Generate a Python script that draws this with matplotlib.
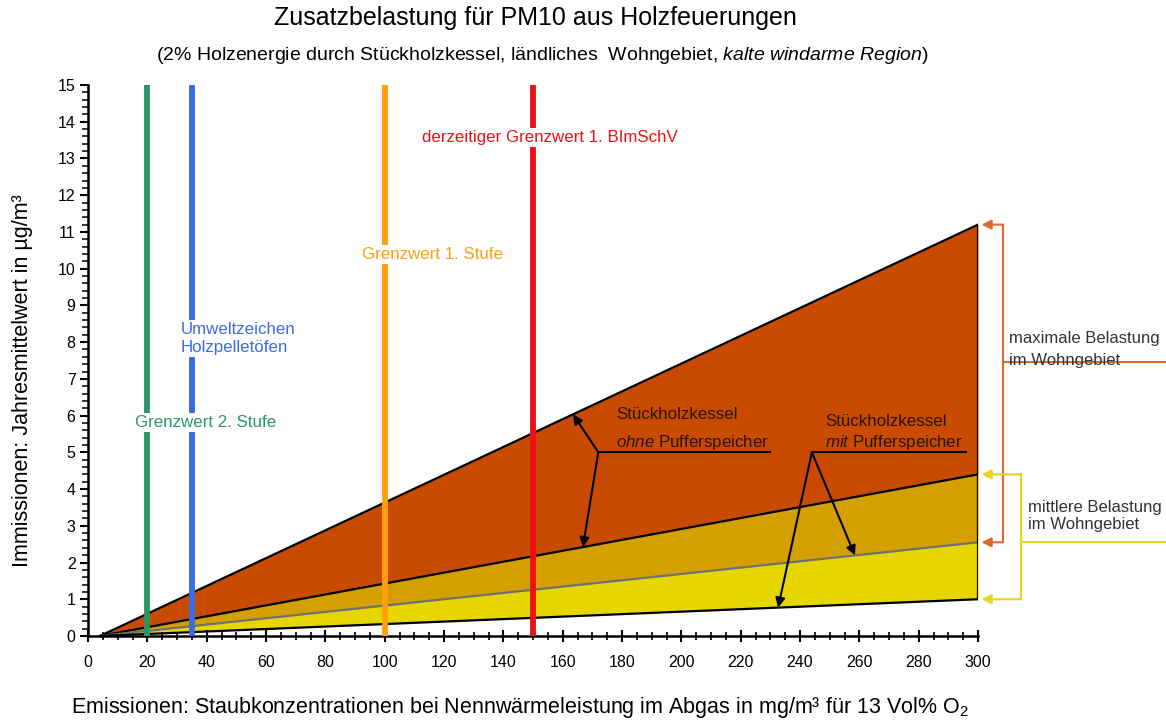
import matplotlib
matplotlib.use("Agg")
import matplotlib.pyplot as plt
from matplotlib.ticker import MultipleLocator

plt.rcParams["font.family"] = ["Liberation Sans", "DejaVu Sans"]
plt.rcParams["mathtext.fontset"] = "custom"
plt.rcParams["mathtext.rm"] = "Liberation Sans"
plt.rcParams["mathtext.it"] = "Liberation Sans:italic"
plt.rcParams["mathtext.default"] = "regular"

# Emission concentration (mg/m3) at the start and end of each band
emission = [4, 300]
# Annual mean immission (µg/m3) for the four boundary lines
max_ohne = [0, 11.2]       # Stückholzkessel ohne Pufferspeicher, maximum
mid_ohne = [0, 4.4]        # Stückholzkessel ohne Pufferspeicher, mean / mit Puffer, maximum
mid_mit = [0, 2.55]        # Stückholzkessel mit Pufferspeicher, middle line
low_mit = [0, 1.0]         # Stückholzkessel mit Pufferspeicher, lower line

# Limit values (mg/m3) drawn as vertical lines
limit_values = [20, 35, 100, 150]
limit_labels = ["Grenzwert 2. Stufe", "Umweltzeichen\nHolzpelletöfen",
                "Grenzwert 1. Stufe", "derzeitiger Grenzwert 1. BImSchV"]
limit_colors = ["#2E9467", "#3A6CE8", "#FF9E0F", "#EE1111"]

x_ticks = list(range(0, 301, 20))
y_ticks = list(range(0, 16))

fig = plt.figure(figsize=(11.66, 7.2), dpi=100)
ax = fig.add_axes([0.0755, 0.1167, 0.7633, 0.7652])

c_dark = "#C94B02"
c_gold = "#D4A000"
c_yellow = "#E6D600"

ax.fill_between(emission, mid_ohne, max_ohne, color=c_dark, lw=0, zorder=1)
ax.fill_between(emission, mid_mit, mid_ohne, color=c_gold, lw=0, zorder=1)
ax.fill_between(emission, low_mit, mid_mit, color=c_yellow, lw=0, zorder=1)

ax.plot(emission, max_ohne, color="black", lw=1.6, zorder=2)
ax.plot(emission, mid_ohne, color="black", lw=1.6, zorder=2)
ax.plot(emission, mid_mit, color="#707070", lw=1.6, zorder=2)
ax.plot(emission, low_mit, color="black", lw=1.6, zorder=2)
ax.plot([emission[-1], emission[-1]], [low_mit[-1], max_ohne[-1]],
        color="black", lw=1.6, zorder=2)

for xv, col in zip(limit_values, limit_colors):
    ax.plot([xv, xv], [0, 15], color=col, lw=4.2, zorder=3, solid_capstyle="butt")

# Labels of the limit lines, on white so they interrupt the lines
label_pos = [(15.8, 5.8, "left"), (31.3, 8.1, "left"),
             (116, 10.38, "center"), (155.7, 13.57, "center")]
for (lx, ly, ha), txt, col in zip(label_pos, limit_labels, limit_colors):
    ax.text(lx, ly, txt, color=col, fontsize=12.2, ha=ha, va="center",
            linespacing=1.2, zorder=4,
            bbox=dict(facecolor="white", edgecolor="none", pad=1.5))

# Interpolation helper for pointing at the boundary lines
def on_line(line, xv):
    x0, x1 = emission
    return line[0] + (line[1] - line[0]) * (xv - x0) / (x1 - x0)

arrow_kw = dict(arrowstyle="-|>", color="black", lw=1.5, mutation_scale=14,
                shrinkA=0, shrinkB=0)
txt_col = "#2a1200"

# Stückholzkessel ohne Pufferspeicher
ax.text(178, 6.02, "Stückholzkessel", fontsize=12.2, color=txt_col,
        ha="left", va="center", zorder=5)
ax.text(178, 5.28, r"$\it{ohne}$ Pufferspeicher", fontsize=12.2,
        color=txt_col, ha="left", va="center", zorder=5)
ax.plot([172, 230], [5.0, 5.0], color="black", lw=1.5, zorder=5)
for tx, line in [(163.5, max_ohne), (166.8, mid_ohne)]:
    ax.annotate("", xy=(tx, on_line(line, tx)), xytext=(172, 5.0),
                arrowprops=arrow_kw, zorder=5)

# Stückholzkessel mit Pufferspeicher
ax.text(248.4, 5.85, "Stückholzkessel", fontsize=12.2, color=txt_col,
        ha="left", va="center", zorder=5)
ax.text(248.4, 5.28, r"$\it{mit}$ Pufferspeicher", fontsize=12.2,
        color=txt_col, ha="left", va="center", zorder=5)
ax.plot([244, 296], [5.0, 5.0], color="black", lw=1.5, zorder=5)
for tx, line in [(258.5, mid_mit), (232.6, low_mit)]:
    ax.annotate("", xy=(tx, on_line(line, tx)), xytext=(244, 5.0),
                arrowprops=arrow_kw, zorder=5)

# Brackets on the right: maximum and mean load in the residential area
c_max = "#D9692C"
c_mid = "#E8D41E"
bx_max, bx_mid, tip, x_end = 308.4, 314.5, 301.2, 364
ax.plot([bx_max, bx_max], [mid_mit[-1], max_ohne[-1]], color=c_max, lw=1.5,
        clip_on=False)
ax.plot([bx_max, x_end], [7.45, 7.45], color=c_max, lw=1.5, clip_on=False)
for yv in [max_ohne[-1], mid_mit[-1]]:
    ax.annotate("", xy=(tip, yv), xytext=(bx_max, yv), annotation_clip=False,
                arrowprops=dict(arrowstyle="-|>", color=c_max, lw=1.5,
                                mutation_scale=14, shrinkA=0, shrinkB=0))
ax.text(310.5, 7.8, "maximale Belastung\nim Wohngebiet", fontsize=12,
        color="#333333", ha="left", va="center", linespacing=1.6)

ax.plot([bx_mid, bx_mid], [low_mit[-1], mid_ohne[-1]], color=c_mid, lw=1.5,
        clip_on=False)
ax.plot([bx_mid, x_end], [2.55, 2.55], color=c_mid, lw=1.5, clip_on=False)
for yv in [mid_ohne[-1], low_mit[-1]]:
    ax.annotate("", xy=(tip, yv), xytext=(bx_mid, yv), annotation_clip=False,
                arrowprops=dict(arrowstyle="-|>", color=c_mid, lw=1.5,
                                mutation_scale=14, shrinkA=0, shrinkB=0))
ax.text(316.8, 3.27, "mittlere Belastung\nim Wohngebiet", fontsize=12,
        color="#333333", ha="left", va="center", linespacing=1.2)

# Axes
ax.set_xlim(0, 300)
ax.set_ylim(0, 15)
ax.set_xticks(x_ticks)
ax.set_yticks(y_ticks)
ax.xaxis.set_minor_locator(MultipleLocator(5))
ax.yaxis.set_minor_locator(MultipleLocator(0.2))
ax.tick_params(axis="x", which="major", direction="inout", length=9, width=1.5,
               labelsize=11.5, pad=9)
ax.tick_params(axis="x", which="minor", direction="inout", length=6, width=1.2)
ax.tick_params(axis="y", which="major", direction="out", length=6, width=1.5,
               labelsize=11.5, pad=3)
ax.tick_params(axis="y", which="minor", direction="out", length=4, width=1.1)
for s in ["top", "right"]:
    ax.spines[s].set_visible(False)
for s in ["left", "bottom"]:
    ax.spines[s].set_linewidth(1.8)

ax.set_xlabel("Emissionen: Staubkonzentrationen bei Nennwärmeleistung im Abgas in mg/m³ für 13 Vol% O$_2$",
              fontsize=15.5)
ax.xaxis.set_label_coords(0.485, -0.108)
ax.set_ylabel("Immissionen: Jahresmittelwert in µg/m³", fontsize=15.5)
ax.yaxis.set_label_coords(-0.062, 0.463)

fig.text(0.459, 0.975, "Zusatzbelastung für PM10 aus Holzfeuerungen",
         fontsize=18, ha="center", va="center")
fig.text(0.465, 0.923,
         r"(2% Holzenergie durch Stückholzkessel, ländliches  Wohngebiet, $\it{kalte\ windarme\ Region}$)",
         fontsize=14, ha="center", va="center")

fig.savefig("out.png", dpi=100)
